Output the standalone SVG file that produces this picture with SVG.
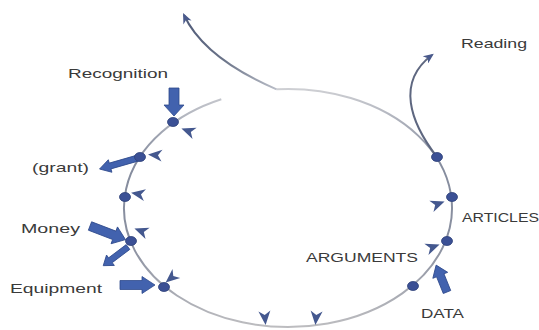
<svg xmlns="http://www.w3.org/2000/svg" width="539" height="330" viewBox="0 0 539 330">
<style>
.txt{font-family:"Liberation Sans",Arial,sans-serif;font-size:13px;fill:#3a3a3a}
.dot{fill:#3b5095;stroke:#2e4178;stroke-width:0.8}
.blk{fill:#4262ae;stroke:#2f4a8c;stroke-width:0.8}
.chev{fill:#44588f}
.ring{fill:none;stroke:url(#gring);stroke-width:2}
.curve{fill:none;stroke:#5e6780;stroke-width:2}
</style>
<defs>
<linearGradient id="gring" gradientUnits="userSpaceOnUse" x1="0" y1="88" x2="0" y2="328">
<stop offset="0" stop-color="#cfd0d4"/>
<stop offset="0.3" stop-color="#858c9e"/>
<stop offset="0.65" stop-color="#8a90a0"/>
<stop offset="1" stop-color="#bdbdc0"/>
</linearGradient>
<linearGradient id="gesc" gradientUnits="userSpaceOnUse" x1="276" y1="89" x2="184" y2="15">
<stop offset="0" stop-color="#b8bcc6"/>
<stop offset="0.5" stop-color="#6a7388"/>
<stop offset="1" stop-color="#4f5a78"/>
</linearGradient>
<marker id="ah" viewBox="-8 -6 16 12" markerWidth="12" markerHeight="9" markerUnits="userSpaceOnUse" refX="4" refY="0" orient="auto">
<path d="M7,0 L-7,-6 L-3,0 L-7,6 Z" fill="#4a5a8c"/>
</marker>
<path id="chv" d="M7,0 L-7,-6 L-3,0 L-7,6 Z"/>
</defs>
<g id="connectors">
<path class="ring" d="M276.6,89.3 A164,119 0 1 1 221.3,99.3"/>
<path d="M276.6,89.3 Q204,58 184,15" fill="none" stroke="url(#gesc)" stroke-width="2" marker-end="url(#ah)"/>
<path class="curve" d="M437,157 C410,122 396,82 432,55" marker-end="url(#ah)"/>
<g class="chev">
<use href="#chv" transform="translate(188,131) rotate(200)"/>
<use href="#chv" transform="translate(155,155) rotate(185)"/>
<use href="#chv" transform="translate(138,194) rotate(190)"/>
<use href="#chv" transform="translate(141,231) rotate(200)"/>
<use href="#chv" transform="translate(171,278) rotate(140)"/>
<use href="#chv" transform="translate(438,204) rotate(-20)"/>
<use href="#chv" transform="translate(433,247) rotate(-20)"/>
<use href="#chv" transform="translate(265,318) rotate(85)"/>
<use href="#chv" transform="translate(316,318) rotate(95)"/>
</g>
<g id="block-arrows">
<polygon class="blk" transform="translate(174,88) rotate(90)" points="0,-5 17,-5 17,-10 28,0 17,10 17,5 0,5"/>
<polygon class="blk" transform="translate(138,158) rotate(164)" points="0,-3 29,-3 29,-6.5 40,0 29,6.5 29,3 0,3"/>
<polygon class="blk" transform="translate(90,226) rotate(21)" points="0,-4.5 26,-4.5 26,-9 38,0 26,9 26,4.5 0,4.5"/>
<polygon class="blk" transform="translate(128,247) rotate(143)" points="0,-3 22,-3 22,-6.5 31,0 22,6.5 22,3 0,3"/>
<polygon class="blk" transform="translate(120,285) rotate(0)" points="0,-4.5 22,-4.5 22,-8.5 35,0 22,8.5 22,4.5 0,4.5"/>
<polygon class="blk" transform="translate(447,292) rotate(-112)" points="0,-4 18,-4 18,-8 29,0 18,8 18,4 0,4"/>
</g>
</g>
<g id="n-recognition"><ellipse class="dot" cx="173" cy="122" rx="5.5" ry="4.5"/><text class="txt" x="68" y="78" textLength="100" lengthAdjust="spacingAndGlyphs">Recognition</text></g>
<g id="n-grant"><ellipse class="dot" cx="140" cy="157" rx="5.5" ry="4.5"/><text class="txt" x="32" y="172" textLength="57" lengthAdjust="spacingAndGlyphs">(grant)</text></g>
<g id="n-3"><ellipse class="dot" cx="125" cy="197" rx="5.5" ry="4.5"/></g>
<g id="n-money"><ellipse class="dot" cx="131" cy="241" rx="5.5" ry="4.5"/><text class="txt" x="21" y="233" textLength="59" lengthAdjust="spacingAndGlyphs">Money</text></g>
<g id="n-equipment"><ellipse class="dot" cx="164" cy="287" rx="5.5" ry="4.5"/><text class="txt" x="10" y="293" textLength="92" lengthAdjust="spacingAndGlyphs">Equipment</text></g>
<g id="n-reading"><ellipse class="dot" cx="437" cy="157" rx="5.5" ry="4.5"/><text class="txt" x="461" y="48" textLength="66" lengthAdjust="spacingAndGlyphs">Reading</text></g>
<g id="n-articles"><ellipse class="dot" cx="452" cy="197" rx="5.5" ry="4.5"/><text class="txt" x="462" y="222" textLength="77" lengthAdjust="spacingAndGlyphs">ARTICLES</text></g>
<g id="n-arguments"><ellipse class="dot" cx="447" cy="241" rx="5.5" ry="4.5"/><text class="txt" x="306" y="262" textLength="112" lengthAdjust="spacingAndGlyphs">ARGUMENTS</text></g>
<g id="n-data"><ellipse class="dot" cx="413" cy="286" rx="5.5" ry="4.5"/><text class="txt" x="421" y="318" textLength="43" lengthAdjust="spacingAndGlyphs">DATA</text></g>
</svg>
